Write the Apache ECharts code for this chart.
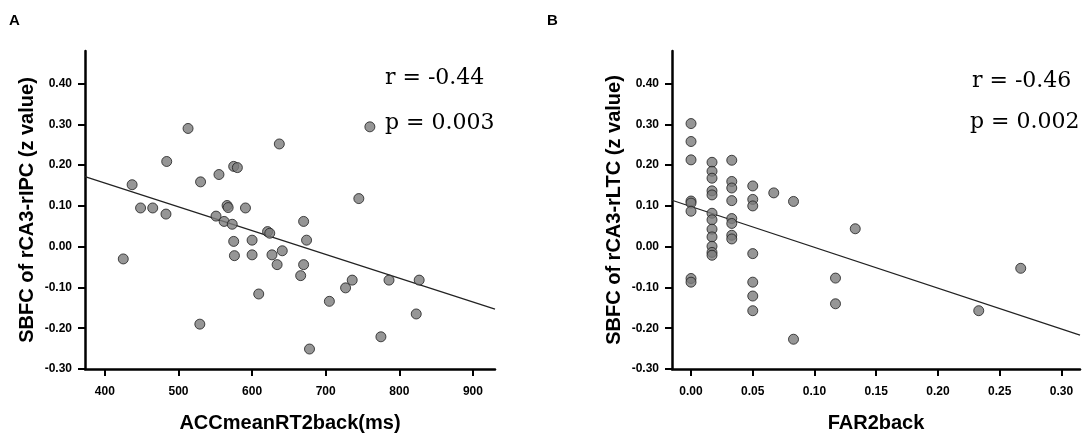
<!DOCTYPE html>
<html>
<head>
<meta charset="utf-8">
<title>SBFC scatter</title>
<script src="https://cdn.jsdelivr.net/npm/echarts@6/dist/echarts.min.js"></script>
<style>
    html, body { margin: 0; padding: 0; background: #fff; }
    #main { width: 1084px; height: 438px; }
</style>
</head>
<body>
<div id="main"></div>
<script>
// panel A: ACCmeanRT2back(ms) vs SBFC rCA3-rIPC
var rtA = [425, 437, 448.5, 465, 483, 484, 513, 530, 529, 551, 555, 562, 566, 567.5, 573, 575, 580, 575, 576, 591,
    600, 600, 609, 621, 624, 627, 634, 637, 641, 666, 670, 670, 674, 678, 705, 727, 736, 745, 760, 775, 786, 823, 827];
var zA = [-0.030, 0.152, 0.095, 0.095, 0.080, 0.209, 0.290, 0.159, -0.190, 0.075, 0.177, 0.062, 0.101, 0.096, 0.055, 0.197, 0.194, 0.013, -0.022, 0.095,
    0.016, -0.020, -0.116, 0.037, 0.033, -0.020, -0.044, 0.252, -0.010, -0.071, 0.062, -0.044, 0.016, -0.251, -0.134, -0.101, -0.082, 0.118, 0.294, -0.221, -0.082, -0.165, -0.082];
var fitA = [[373, 0.172], [930, -0.153]];

// panel B: FAR2back vs SBFC rCA3-rLTC
var farB = [0, 0, 0, 0, 0, 0, 0, 0,
    0.017, 0.017, 0.017, 0.017, 0.017, 0.017, 0.017, 0.017, 0.017, 0.017, 0.017, 0.017,
    0.033, 0.033, 0.033, 0.033, 0.033, 0.033, 0.033, 0.033,
    0.050, 0.050, 0.050, 0.050, 0.050, 0.050, 0.050,
    0.067, 0.083, 0.083, 0.117, 0.117, 0.133, 0.233, 0.267];
var zB = [0.302, 0.258, 0.213, 0.112, 0.107, 0.087, -0.078, -0.087,
    0.207, 0.185, 0.168, 0.137, 0.127, 0.082, 0.066, 0.043, 0.024, 0.001, -0.014, -0.021,
    0.212, 0.160, 0.144, 0.113, 0.069, 0.057, 0.028, 0.019,
    0.149, 0.116, 0.100, -0.017, -0.087, -0.121, -0.157,
    0.132, 0.111, -0.227, -0.077, -0.140, 0.044, -0.157, -0.053];
var fitB = [[-0.0154, 0.114], [0.315, -0.217]];

var yTicks = [-0.3, -0.2, -0.1, 0, 0.1, 0.2, 0.3, 0.4];
var xTicksA = [400, 500, 600, 700, 800, 900];
var xTicksB = [0, 0.05, 0.10, 0.15, 0.20, 0.25, 0.30];

var chart = echarts.init(document.getElementById('main'));

// tiny stand-in for jQuery's extend so the option code reads the same
var $ = {
    extend: function (target) {
        for (var i = 1; i < arguments.length; i++) {
            for (var k in arguments[i]) target[k] = arguments[i][k];
        }
        return target;
    }
};

function pairs(xs, ys) {
    var out = [];
    for (var i = 0; i < xs.length; i++) {
        out.push([xs[i], ys[i]]);
    }
    return out;
}

var tickFont = {color: '#000', fontWeight: 'bold', fontSize: 12, fontFamily: 'Liberation Sans, Arial, sans-serif'};
var nameFont = {color: '#000', fontWeight: 'bold', fontSize: 20, fontFamily: 'Liberation Sans, Arial, sans-serif'};

function xAxisOf(idx, min, max, ticks, name, digits) {
    return {
        type: 'value', gridIndex: idx, min: min, max: max,
        name: name, nameLocation: 'middle', nameGap: 44, nameTextStyle: nameFont,
        splitLine: {show: false},
        axisLine: {onZero: false, lineStyle: {color: '#000', width: 2.5}},
        axisTick: {length: 7, lineStyle: {color: '#000', width: 2}, customValues: ticks},
        axisLabel: $.extend({}, tickFont, {
            margin: 17, customValues: ticks,
            formatter: function (v) { return digits ? v.toFixed(digits) : String(v); }
        })
    };
}

function yAxisOf(idx, name) {
    return {
        type: 'value', gridIndex: idx, min: -0.3, max: 0.48,
        name: name, nameLocation: 'middle', nameGap: 48, nameTextStyle: nameFont,
        splitLine: {show: false},
        axisLine: {onZero: false, lineStyle: {color: '#000', width: 2.5}},
        axisTick: {length: 7, lineStyle: {color: '#000', width: 2}, customValues: yTicks},
        axisLabel: $.extend({}, tickFont, {
            margin: 13, customValues: yTicks,
            formatter: function (v) { return v.toFixed(2); }
        })
    };
}

var dot = {color: '#7c7c7c', borderColor: '#1e1e1e', borderWidth: 1};
var fitLine = {color: '#222', width: 1.2};
var serif = '22px "DejaVu Serif", "Liberation Serif", serif';

option = {
    backgroundColor: '#fff',
    animation: false,
    grid: [
        {left: 85, top: 51, width: 410, height: 318},
        {left: 672, top: 51, width: 408, height: 318}
    ],
    xAxis: [
        xAxisOf(0, 373, 930, xTicksA, 'ACCmeanRT2back(ms)', 0),
        xAxisOf(1, -0.0154, 0.315, xTicksB, 'FAR2back', 2)
    ],
    yAxis: [
        yAxisOf(0, 'SBFC of rCA3-rIPC (z value)'),
        yAxisOf(1, 'SBFC of rCA3-rLTC (z value)')
    ],
    graphic: [
        {type: 'text', left: 9, top: 13, style: {text: 'A', font: 'bold 15px "Liberation Sans", Arial, sans-serif', fill: '#000'}},
        {type: 'text', left: 547, top: 13, style: {text: 'B', font: 'bold 15px "Liberation Sans", Arial, sans-serif', fill: '#000'}},
        {type: 'text', style: {text: 'r = -0.44', x: 385, y: 78, verticalAlign: 'middle', font: serif, fill: '#000'}},
        {type: 'text', style: {text: 'p = 0.003', x: 385, y: 123, verticalAlign: 'middle', font: serif, fill: '#000'}},
        {type: 'text', style: {text: 'r = -0.46', x: 972, y: 81, verticalAlign: 'middle', font: serif, fill: '#000'}},
        {type: 'text', style: {text: 'p = 0.002', x: 970, y: 122, verticalAlign: 'middle', font: serif, fill: '#000'}}
    ],
    series: [
        {
            type: 'line', xAxisIndex: 0, yAxisIndex: 0, data: fitA,
            showSymbol: false, silent: true, lineStyle: fitLine, z: 1
        },
        {
            type: 'scatter', xAxisIndex: 0, yAxisIndex: 0, data: pairs(rtA, zA),
            symbolSize: 10, itemStyle: dot, z: 2
        },
        {
            type: 'line', xAxisIndex: 1, yAxisIndex: 1, data: fitB,
            showSymbol: false, silent: true, lineStyle: fitLine, z: 1
        },
        {
            type: 'scatter', xAxisIndex: 1, yAxisIndex: 1, data: pairs(farB, zB),
            symbolSize: 10, itemStyle: dot, z: 2
        }
    ]
};
chart.setOption(option);
</script>
</body>
</html>
